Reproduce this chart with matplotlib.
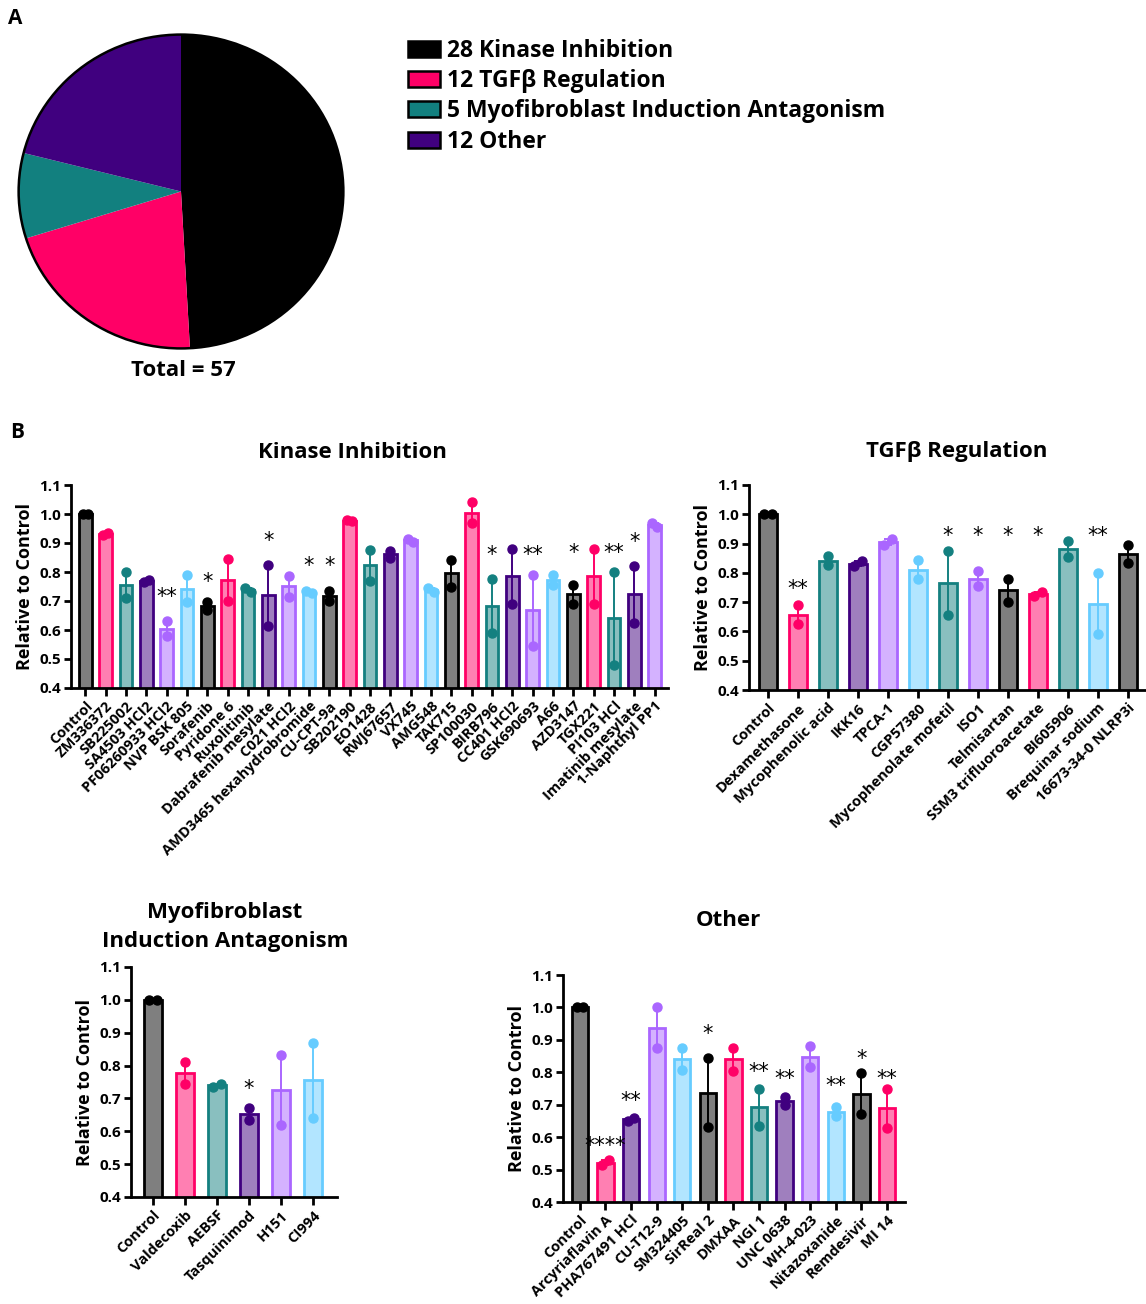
import numpy as np
import matplotlib
matplotlib.use('Agg')
import matplotlib.pyplot as plt
from matplotlib.colors import to_rgba
from matplotlib.patches import Patch, Ellipse

plt.rcParams['font.family'] = ['Open Sans', 'DejaVu Sans']
plt.rcParams['font.weight'] = 'bold'
plt.rcParams['axes.labelweight'] = 'bold'

W, H = 1146, 1304

# outline colour of each colour key; fills are the same colour at half alpha
edge = {'k': '#000000', 'p': '#FF0066', 't': '#148080',
        'u': '#40007F', 'l': '#AA66FF', 'b': '#66CCFF'}

# ---- panel A ----
pie_labels = ['Kinase Inhibition', 'TGFβ Regulation',
              'Myofibroblast Induction Antagonism', 'Other']
pie_counts = [28, 12, 5, 12]
pie_colors = ['#000000', '#FF0066', '#12807F', '#40007F']

# ---- panel B: two replicates per compound ----
kinase_names = ['Control', 'ZM336372', 'SB225002', 'SA4503 HCl2', 'PF06260933 HCl2',
                'NVP BSK 805', 'Sorafenib', 'Pyridone 6', 'Ruxolitinib',
                'Dabrafenib mesylate', 'C021 HCl2', 'AMD3465 hexahydrobromide',
                'CU-CPT-9a', 'SB202190', 'EO1428', 'RWJ67657', 'VX745', 'AMG548',
                'TAK715', 'SP100030', 'BIRB796', 'CC401 HCl2', 'GSK690693', 'A66',
                'AZD3147', 'TGX221', 'PI103 HCl', 'Imatinib mesylate', '1-Naphthyl PP1']
kinase_reps = [[1.0, 1.0], [0.928, 0.935], [0.80, 0.71], [0.765, 0.773], [0.63, 0.58],
               [0.79, 0.695], [0.695, 0.668], [0.845, 0.70], [0.745, 0.73],
               [0.825, 0.615], [0.787, 0.715], [0.736, 0.728], [0.735, 0.70],
               [0.98, 0.975], [0.875, 0.77], [0.873, 0.848], [0.915, 0.905],
               [0.745, 0.73], [0.84, 0.75], [1.04, 0.97], [0.775, 0.59],
               [0.88, 0.69], [0.79, 0.545], [0.79, 0.755], [0.755, 0.69],
               [0.88, 0.69], [0.80, 0.48], [0.82, 0.625], [0.97, 0.955]]
kinase_cols = ['k', 'p', 't', 'u', 'l', 'b', 'k', 'p', 't', 'u', 'l', 'b', 'k', 'p', 't',
               'u', 'l', 'b', 'k', 'p', 't', 'u', 'l', 'b', 'k', 'p', 't', 'u', 'l']
kinase_sig = {4: ('**', 0.73), 6: ('*', 0.784), 9: ('*', 0.925), 11: ('*', 0.84),
              12: ('*', 0.84), 20: ('*', 0.876), 22: ('**', 0.876), 24: ('*', 0.883),
              26: ('**', 0.883), 27: ('*', 0.92)}

tgf_names = ['Control', 'Dexamethasone', 'Mycophenolic acid', 'IKK16', 'TPCA-1',
             'CGP57380', 'Mycophenolate mofetil', 'ISO1', 'Telmisartan',
             'SSM3 trifluoroacetate', 'BI605906', 'Brequinar sodium', '16673-34-0 NLRP3i']
tgf_reps = [[1.0, 1.0], [0.69, 0.625], [0.856, 0.826], [0.822, 0.841], [0.895, 0.915],
            [0.843, 0.778], [0.875, 0.655], [0.805, 0.755], [0.78, 0.70],
            [0.722, 0.735], [0.91, 0.855], [0.80, 0.59], [0.895, 0.835]]
tgf_cols = ['k', 'p', 't', 'u', 'l', 'b', 't', 'l', 'k', 'p', 't', 'b', 'k']
tgf_sig = {1: ('**', 0.762), 6: ('*', 0.943), 7: ('*', 0.943), 8: ('*', 0.943),
           9: ('*', 0.943), 11: ('**', 0.943)}

myo_names = ['Control', 'Valdecoxib', 'AEBSF', 'Tasquinimod', 'H151', 'CI994']
myo_reps = [[1.0, 1.0], [0.81, 0.745], [0.735, 0.745], [0.672, 0.635],
            [0.833, 0.62], [0.87, 0.64]]
myo_cols = ['k', 'p', 't', 'u', 'l', 'b']
myo_sig = {3: ('*', 0.745)}

oth_names = ['Control', 'Arcyriaflavin A', 'PHA767491 HCl', 'CU-T12-9', 'SM324405',
             'SirReal 2', 'DMXAA', 'NGI 1', 'UNC 0638', 'WH-4-023', 'Nitazoxanide',
             'Remdesivir', 'MI 14']
oth_reps = [[1.0, 1.0], [0.513, 0.53], [0.65, 0.66], [1.0, 0.875], [0.875, 0.808],
            [0.843, 0.63], [0.875, 0.805], [0.748, 0.635], [0.70, 0.725],
            [0.88, 0.815], [0.665, 0.693], [0.797, 0.672], [0.75, 0.628]]
oth_cols = ['k', 'p', 'u', 'l', 'b', 'k', 'p', 't', 'u', 'l', 'b', 'k', 'p']
oth_sig = {1: ('****', 0.587), 2: ('**', 0.726), 5: ('*', 0.933), 7: ('**', 0.816),
           8: ('**', 0.794), 10: ('**', 0.772), 11: ('*', 0.856), 12: ('**', 0.794)}


def box(l, t, r, b):
    return [l / W, 1 - b / H, (r - l) / W, (b - t) / H]


def bar_panel(ax, names, reps, cols, sig, xlim, width):
    reps = np.array(reps)
    x = np.arange(len(names))
    means = reps.mean(axis=1)
    sem = np.abs(reps[:, 0] - reps[:, 1]) / 2
    for i in x:
        ec = edge[cols[i]]
        ax.bar(i, means[i], width=width, facecolor=to_rgba(ec, 0.5),
               edgecolor=ec, linewidth=2, zorder=2)
        ax.errorbar(i, means[i], yerr=sem[i], color=ec, capsize=3,
                    elinewidth=1.4, capthick=1.4, zorder=3)
        if sem[i] < 0.012:
            xs = [i - 0.13, i + 0.13]
        else:
            xs = [i, i]
        ax.plot(xs, reps[i], 'o', color=ec, ms=6.5, zorder=4, clip_on=False)
    for i, (s, y) in sig.items():
        ax.annotate(s, (i, y), xytext=(0, -8), textcoords='offset points',
                    ha='center', va='baseline', fontsize=15,
                    family='DejaVu Sans', fontweight='normal')
    ax.set_xlim(*xlim)
    ax.set_ylim(0.4, 1.1)
    ax.set_yticks(np.arange(0.4, 1.11, 0.1))
    ax.set_yticklabels(['%.1f' % v for v in np.arange(0.4, 1.11, 0.1)], fontsize=11)
    ax.set_xticks(x)
    ax.set_xticklabels(names, rotation=45, ha='right', rotation_mode='anchor',
                       fontsize=10.5)
    ax.tick_params(axis='x', length=6, width=2, pad=2)
    ax.tick_params(axis='y', length=5, width=2, pad=2)
    for s in ['top', 'right']:
        ax.spines[s].set_visible(False)
    for s in ['left', 'bottom']:
        ax.spines[s].set_linewidth(2)
    ax.set_ylabel('Relative to Control', fontsize=13, labelpad=4)


fig = plt.figure(figsize=(W / 100, H / 100), dpi=100)

# pie
axp = fig.add_axes(box(17, 33, 345, 350))
axp.pie(pie_counts, colors=pie_colors, startangle=90, counterclock=False,
        wedgeprops=dict(linewidth=0))
axp.add_patch(Ellipse((0, 0), 2, 2, fill=False, edgecolor='black', lw=1.8))
axp.set_aspect('auto')
axp.set_xlim(-1.01, 1.01)
axp.set_ylim(-1.01, 1.01)
fig.text(183 / W, 1 - 371 / H, 'Total = %d' % sum(pie_counts), ha='center',
         va='center', fontsize=16)
handles = [Patch(facecolor=c, edgecolor='black', linewidth=1.8) for c in pie_colors]
labels = ['%d %s' % (n, l) for n, l in zip(pie_counts, pie_labels)]
fig.legend(handles, labels, loc='upper left', bbox_to_anchor=(408 / W, 1 - 39 / H),
           frameon=False, fontsize=16.5, handlelength=1.4, handleheight=0.7,
           handletextpad=0.3, labelspacing=0.27, borderpad=0, borderaxespad=0)

fig.text(8 / W, 1 - 18 / H, 'A', fontsize=15, va='center')
fig.text(10 / W, 1 - 433 / H, 'B', fontsize=15, va='center')

ax1 = fig.add_axes(box(71, 485, 668, 688))
bar_panel(ax1, kinase_names, kinase_reps, kinase_cols, kinase_sig, (-0.7, 28.65), 0.62)
fig.text(352 / W, 1 - 452 / H, 'Kinase Inhibition', ha='center', va='center', fontsize=16)

ax2 = fig.add_axes(box(749, 485, 1145, 690))
bar_panel(ax2, tgf_names, tgf_reps, tgf_cols, tgf_sig, (-0.63, 12.57), 0.62)
fig.text(957 / W, 1 - 452 / H, 'TGFβ Regulation', ha='center', va='center', fontsize=16)

ax3 = fig.add_axes(box(131, 967, 337, 1197))
bar_panel(ax3, myo_names, myo_reps, myo_cols, myo_sig, (-0.69, 5.75), 0.58)
fig.text(225 / W, 1 - 927 / H, 'Myofibroblast\nInduction Antagonism', ha='center',
         va='center', fontsize=16, linespacing=1.5)

ax4 = fig.add_axes(box(563, 975, 905, 1202))
bar_panel(ax4, oth_names, oth_reps, oth_cols, oth_sig, (-0.66, 12.7), 0.64)
fig.text(728 / W, 1 - 921 / H, 'Other', ha='center', va='center', fontsize=16)

fig.savefig('out.png', dpi=100)
